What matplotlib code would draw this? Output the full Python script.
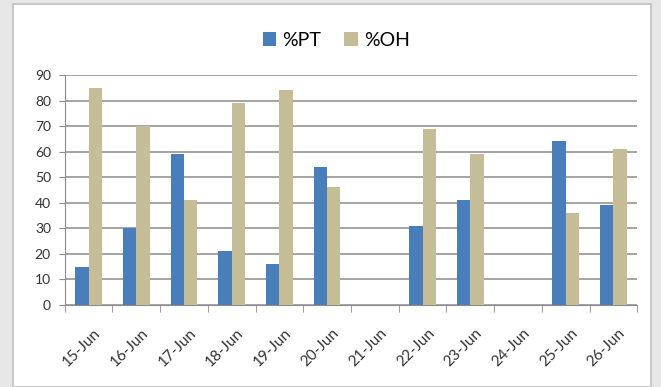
import numpy as np
import matplotlib.pyplot as plt
from matplotlib.patches import Rectangle

plt.rcParams['font.family'] = ['Lato', 'DejaVu Sans']

dates = ['15-Jun', '16-Jun', '17-Jun', '18-Jun', '19-Jun', '20-Jun',
         '21-Jun', '22-Jun', '23-Jun', '24-Jun', '25-Jun', '26-Jun']
pt = [15, 30, 59, 21, 16, 54, 0, 31, 41, 0, 64, 39]
oh = [85, 70, 41, 79, 84, 46, 0, 69, 59, 0, 36, 61]

fig = plt.figure(figsize=(6.61, 3.87), dpi=100)
fig.patch.set_facecolor('#e6e6e6')
# white chart area with a light border
fig.patches.append(Rectangle((13 / 661, 0), 638 / 661, 383 / 387, transform=fig.transFigure,
                             facecolor='white', edgecolor='#c8c8c8', linewidth=1.5, zorder=-5))

ax = fig.add_axes([0.098, 0.212, 0.866, 0.594])
ax.set_facecolor('white')
x = np.arange(len(dates))
w = 0.28
ax.bar(x - w / 2, pt, w, color='#4a7ebb', label='%PT', zorder=3)
ax.bar(x + w / 2, oh, w, color='#c4bd97', label='%OH', zorder=3)

ax.set_xlim(-0.5, len(dates) - 0.5)
ax.set_ylim(0, 90)
ax.set_yticks(range(0, 91, 10))
ax.yaxis.grid(True, color='#8c8c8c', linewidth=1.1, zorder=0)
for s in ['top', 'right']:
    ax.spines[s].set_visible(False)
ax.spines['left'].set_color('#8c8c8c')
ax.spines['bottom'].set_color('#8c8c8c')

ax.set_xticks(x + 0.1)
ax.set_xticklabels(dates, rotation=45, ha='right', rotation_mode='anchor', fontsize=11, color='#333333')
ax.tick_params(axis='x', length=0, pad=15)
ax.set_xticks(np.arange(-0.5, len(dates), 1), minor=True)
ax.tick_params(axis='x', which='minor', length=5, color='#8c8c8c')
ax.tick_params(axis='y', length=4, color='#8c8c8c', labelsize=10, labelcolor='#333333', pad=6)

ax.legend(loc='center', bbox_to_anchor=(0.474, 1.15), ncol=2, frameon=False, fontsize=14,
          handlelength=0.7, handleheight=0.7, handletextpad=0.3, columnspacing=1.2)

plt.savefig('out.png', dpi=100, facecolor=fig.get_facecolor())
